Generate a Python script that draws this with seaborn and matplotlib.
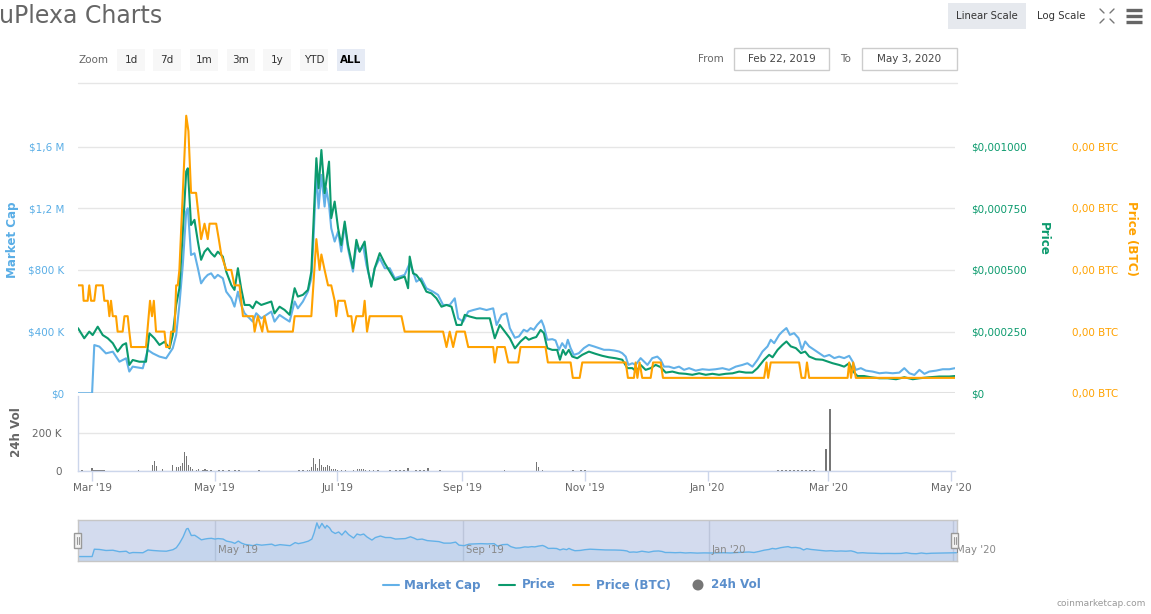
import numpy as np
import pandas as pd
import seaborn as sns
import matplotlib.pyplot as plt
import matplotlib.dates as mdates
from matplotlib.patches import Rectangle, Circle
from matplotlib.ticker import FuncFormatter

# ---- data (day = days since Feb 22, 2019) ----
START = pd.Timestamp('2019-02-22')
END = pd.Timestamp('2020-05-03')

# market cap, thousands of USD
mc_days = [0, 7.0, 8.1, 10.6, 13.9, 17.3, 20.6, 23.9, 25.5, 27.2,
           32.2, 34.7, 37.2, 40.5, 43.8, 47.1, 48.8, 50.4, 52.1, 53.8,
           54.6, 56.2, 57.9, 59.6, 61.2, 62.9, 64.5, 66.2, 67.9, 69.5,
           72.0, 73.7, 76.2, 77.8, 79.5, 81.1, 82.8, 85.3, 86.9, 88.6,
           91.1, 93.6, 96.1, 97.7, 100.2, 102.7, 105.2, 107.7, 109.3, 111.8,
           114.3, 116.0, 117.1, 118.5, 119.6, 121.0, 122.6, 123.4, 124.8, 125.9,
           127.6, 129.3, 130.9, 132.6, 134.2, 136.7, 138.4, 140.0, 141.7, 143.4,
           145.8, 147.5, 150.0, 152.5, 155.0, 157.5, 160.0, 162.4, 164.9, 166.6,
           168.2, 170.7, 173.2, 176.5, 179.0, 181.5, 184.8, 187.3, 189.0, 191.5,
           194.0, 196.5, 199.8, 203.1, 206.4, 208.1, 210.6, 213.0, 214.7, 217.2,
           219.2, 221.6, 223.3, 225.0, 226.6, 228.3, 230.4, 231.6, 233.3, 235.8,
           237.4, 239.1, 240.7, 242.4, 243.5, 244.9, 246.5, 249.0, 251.5, 254.0,
           256.5, 259.0, 261.5, 264.0, 266.5, 269.0, 270.6, 272.3, 273.6, 275.6,
           277.2, 279.7, 281.4, 283.1, 285.5, 288.0, 289.7, 291.3, 293.8, 296.3,
           298.8, 301.3, 303.8, 307.1, 310.4, 313.7, 317.0, 320.4, 323.7, 327.0,
           330.3, 332.8, 335.3, 337.8, 340.3, 342.8, 344.4, 346.1, 348.6, 350.2,
           352.2, 353.9, 356.0, 358.2, 359.9, 361.5, 363.5, 366.0, 368.5, 371.0,
           373.5, 376.0, 378.4, 380.9, 383.4, 385.1, 386.7, 389.2, 391.7, 395.0,
           398.4, 401.7, 405.0, 408.3, 410.8, 413.3, 415.8, 418.3, 420.8, 423.2,
           426.6, 429.9, 433.2, 436.0]
mc_k = [0, 0, 313, 303, 259, 270, 205, 227, 141, 173,
        162, 281, 259, 238, 227, 292, 378, 573, 832, 1178,
        1200, 897, 908, 811, 713, 746, 768, 778, 746, 768,
        746, 659, 616, 562, 659, 573, 519, 486, 465, 519,
        486, 508, 530, 465, 508, 486, 465, 595, 551, 595,
        659, 746, 1005, 1438, 1200, 1416, 1211, 1330, 1222, 1070,
        984, 1049, 919, 1092, 940, 789, 962, 919, 962, 832,
        703, 811, 876, 811, 811, 746, 757, 768, 843, 789,
        724, 746, 681, 659, 638, 573, 573, 616, 486, 465,
        530, 540, 551, 540, 551, 443, 508, 519, 422, 360,
        369, 412, 401, 423, 412, 444, 473, 434, 347, 351,
        343, 282, 325, 293, 347, 293, 249, 260, 293, 314,
        304, 293, 282, 282, 278, 271, 260, 238, 184, 195,
        184, 228, 206, 184, 228, 238, 217, 173, 173, 163,
        173, 152, 163, 147, 156, 152, 156, 163, 152, 173,
        184, 195, 173, 217, 271, 304, 347, 325, 379, 401,
        423, 379, 390, 358, 282, 336, 304, 282, 260, 238,
        249, 228, 238, 228, 243, 206, 152, 163, 147, 141,
        130, 134, 130, 134, 163, 130, 119, 152, 126, 141,
        147, 156, 156, 163]

# price, millionths of USD
price_days = [0, 3.1, 5.6, 7.3, 9.8, 12.3, 14.8, 17.3, 19.7, 22.2,
              23.9, 25.5, 27.2, 30.5, 33.8, 35.5, 38.0, 40.5, 43.0, 45.5,
              47.1, 48.8, 50.4, 52.1, 53.8, 54.6, 56.2, 57.9, 59.6, 61.2,
              62.9, 64.5, 66.2, 67.9, 69.5, 72.0, 73.7, 76.2, 77.8, 79.5,
              81.1, 82.8, 85.3, 86.9, 88.6, 91.1, 93.6, 96.1, 97.7, 100.2,
              102.7, 105.2, 107.7, 109.3, 111.8, 114.3, 116.0, 117.1, 118.5, 119.6,
              121.0, 122.6, 123.4, 124.8, 125.9, 127.6, 129.3, 130.9, 132.6, 134.2,
              136.7, 138.4, 140.0, 142.5, 144.2, 145.8, 147.5, 150.0, 152.5, 155.0,
              157.5, 160.0, 162.4, 164.1, 164.9, 166.6, 168.2, 170.7, 173.2, 175.7,
              178.2, 180.7, 183.2, 185.7, 188.2, 190.6, 192.3, 194.8, 198.1, 201.4,
              204.7, 207.2, 209.7, 212.2, 214.7, 217.2, 220.0, 222.5, 224.1, 226.1,
              227.8, 230.0, 231.6, 233.3, 235.8, 238.2, 239.6, 241.1, 242.4, 244.0,
              245.7, 248.2, 250.7, 254.0, 257.3, 260.6, 263.9, 267.3, 270.6, 273.1,
              275.6, 277.6, 279.7, 282.2, 284.7, 287.2, 289.7, 292.2, 295.5, 298.8,
              302.1, 305.4, 308.8, 312.1, 315.4, 318.7, 322.0, 325.4, 328.7, 332.0,
              335.3, 337.8, 341.1, 343.6, 345.3, 347.8, 350.2, 352.2, 354.4, 356.9,
              359.4, 361.5, 363.5, 366.8, 370.1, 372.6, 375.1, 378.4, 380.9, 383.4,
              385.4, 387.5, 390.8, 394.2, 398.4, 402.5, 406.7, 410.8, 415.0, 418.3,
              423.2, 428.2, 433.2, 436.0]
price_micro = [264, 223, 250, 236, 270, 236, 223, 203, 169, 196,
               203, 115, 135, 128, 128, 243, 223, 196, 209, 182,
               236, 358, 426, 655, 899, 912, 682, 703, 615, 541,
               574, 588, 568, 554, 574, 554, 493, 439, 419, 507,
               426, 358, 358, 345, 372, 358, 365, 372, 324, 351,
               338, 318, 426, 392, 399, 419, 493, 696, 953, 831,
               986, 811, 858, 939, 710, 777, 669, 601, 696, 601,
               507, 622, 574, 615, 500, 432, 507, 568, 527, 493,
               459, 466, 473, 426, 554, 486, 480, 453, 412, 405,
               385, 351, 358, 351, 277, 277, 318, 311, 304, 304,
               304, 223, 277, 250, 223, 182, 210, 228, 217, 224,
               228, 257, 244, 183, 176, 176, 136, 176, 156, 176,
               149, 142, 156, 169, 160, 152, 146, 142, 136, 102,
               102, 88, 115, 95, 102, 115, 106, 84, 88, 81,
               79, 75, 81, 75, 79, 75, 79, 81, 88, 84,
               84, 102, 136, 156, 146, 176, 196, 210, 190, 183,
               163, 169, 149, 138, 136, 129, 122, 115, 108, 122,
               88, 70, 70, 65, 61, 61, 57, 65, 57, 61,
               65, 68, 68, 70]

# price in satoshi (1e-8 BTC)
btc_days = [0, 2.3, 2.8, 4.8, 5.6, 6.5, 8.1, 9.0, 12.3, 13.1,
            14.8, 15.6, 16.4, 17.3, 18.9, 19.7, 22.2, 23.1, 24.7, 25.5,
            26.4, 33.8, 35.8, 36.8, 37.7, 38.8, 43.0, 43.8, 45.5, 46.3,
            48.0, 48.8, 49.6, 50.4, 53.8, 54.9, 56.2, 58.7, 60.4, 61.2,
            62.9, 64.5, 65.4, 68.7, 70.0, 71.2, 73.7, 76.2, 77.8, 80.3,
            82.0, 87.0, 87.8, 89.4, 91.6, 92.7, 94.4, 106.8, 107.7, 116.0,
            118.5, 120.1, 121.0, 122.6, 124.3, 125.9, 127.6, 128.4, 129.3, 132.6,
            134.2, 135.9, 136.7, 138.4, 141.7, 142.5, 143.7, 145.0, 160.8, 162.4,
            181.5, 183.2, 184.8, 186.5, 188.2, 192.3, 194.0, 206.4, 207.2, 208.4,
            212.2, 213.9, 218.8, 220.0, 232.4, 233.6, 244.9, 246.0, 249.4, 250.7,
            272.3, 273.4, 276.4, 277.2, 278.1, 279.2, 280.5, 284.7, 285.9, 289.7,
            290.8, 341.1, 342.3, 343.1, 344.4, 358.5, 359.7, 361.5, 362.4, 363.5,
            382.6, 383.4, 384.3, 385.4, 386.7, 436.0]
btc_sat = [7, 7, 6, 6, 7, 6, 6, 7, 7, 6,
           6, 5, 6, 5, 5, 4, 4, 5, 5, 4,
           3, 3, 6, 5, 6, 4, 4, 3, 3, 4,
           4, 7, 7, 8, 18, 17, 13, 13, 11, 10,
           11, 10, 11, 11, 10, 9, 8, 8, 7, 7,
           5, 5, 4, 5, 4, 5, 4, 4, 5, 5,
           10, 8, 9, 8, 7, 7, 6, 5, 6, 6,
           5, 5, 4, 5, 5, 6, 4, 5, 5, 4,
           4, 3, 4, 3, 4, 4, 3, 3, 2, 3,
           3, 2, 2, 3, 3, 2, 2, 1, 1, 2,
           2, 1, 1, 2, 1, 2, 1, 1, 2, 2,
           1, 1, 2, 1, 2, 2, 1, 1, 2, 1,
           1, 2, 1, 2, 1, 1]

# 24h volume, thousands of USD (days not listed are ~0)
vol_days = [2, 7, 8, 9, 10, 11, 12, 13, 30, 37,
            38, 39, 42, 47, 49, 50, 51, 52, 53, 54,
            55, 56, 57, 59, 60, 62, 63, 64, 66, 70,
            72, 75, 78, 80, 90, 110, 112, 114, 115, 116,
            117, 118, 119, 120, 121, 122, 123, 124, 125, 126,
            127, 128, 129, 131, 133, 137, 139, 140, 141, 142,
            143, 145, 147, 149, 155, 158, 160, 162, 164, 168,
            170, 172, 174, 180, 212, 228, 229, 231, 246, 250,
            252, 348, 350, 352, 354, 356, 358, 360, 362, 364,
            366, 372, 374]
vol_k = [4, 14, 5, 5, 4, 5, 3, 4, 4, 30,
         50, 25, 9, 30, 21, 18, 25, 39, 100, 79,
         32, 21, 9, 6, 8, 6, 7, 5, 6, 4,
         4, 3, 4, 3, 3, 3, 5, 4, 6, 21,
         68, 36, 15, 63, 30, 20, 21, 29, 23, 11,
         8, 7, 6, 5, 4, 6, 8, 7, 8, 9,
         6, 6, 5, 4, 4, 5, 5, 6, 14, 4,
         4, 5, 14, 3, 4, 46, 18, 5, 4, 3,
         3, 4, 4, 4, 4, 4, 3, 4, 3, 4,
         3, 116, 330]

MC_BLUE = '#63b1e8'
PRICE_GREEN = '#0b9a6d'
BTC_ORANGE = '#ffa200'
VOL_GRAY = '#767676'
TEXT_GRAY = '#666666'

mc_df = pd.DataFrame({'date': START + pd.to_timedelta(mc_days, unit='D'),
                      'value': np.array(mc_k) * 1e3})
price_df = pd.DataFrame({'date': START + pd.to_timedelta(price_days, unit='D'),
                         'value': np.array(price_micro) * 1e-6})
btc_df = pd.DataFrame({'date': START + pd.to_timedelta(btc_days, unit='D'),
                       'value': np.array(btc_sat) * 1e-8})
vol_dates = START + pd.to_timedelta(vol_days, unit='D')
vol_vals = np.array(vol_k) * 1e3

sns.set_theme(style='white')
plt.rcParams['font.family'] = ['DejaVu Sans']

W, H = 1151, 614


def box(x0, y0, x1, y1):
    # pixel box (top-left origin) -> figure fraction
    return [x0 / W, 1 - y1 / H, (x1 - x0) / W, (y1 - y0) / H]


def fmt_mc(v, pos):
    if v == 0:
        return '$0'
    if v >= 1e6:
        return '$' + f'{v / 1e6:.1f}'.replace('.', ',') + ' M'
    return f'${v / 1e3:.0f} K'


def fmt_price(v, pos):
    if v == 0:
        return '$0'
    return '$' + f'{v:.6f}'.replace('.', ',')


fig = plt.figure(figsize=(W / 100, H / 100), dpi=100)

# ---- main panel ----
ax = fig.add_axes(box(78, 100, 955, 393.3))
ax_p = ax.twinx()
ax_b = ax.twinx()

mc_top = 1.902e6
sns.lineplot(data=mc_df, x='date', y='value', ax=ax, color=MC_BLUE, lw=1.5,
             estimator=None, sort=False)
sns.lineplot(data=price_df, x='date', y='value', ax=ax_p, color=PRICE_GREEN, lw=1.5,
             estimator=None, sort=False)
sns.lineplot(data=btc_df, x='date', y='value', ax=ax_b, color=BTC_ORANGE, lw=1.5,
             estimator=None, sort=False)

ax.set_xlim(START, END)
ax.set_ylim(0, mc_top)
ax_p.set_ylim(0, mc_top / 1.6e9)
ax_b.set_ylim(0, 19.02e-8)

ax.set_yticks([0, 4e5, 8e5, 1.2e6, 1.6e6])
ax_p.set_yticks([0, 0.00025, 0.0005, 0.00075, 0.001])
ax_b.set_yticks([0, 4e-8, 8e-8, 12e-8, 16e-8])
ax.yaxis.set_major_formatter(FuncFormatter(fmt_mc))
ax_p.yaxis.set_major_formatter(FuncFormatter(fmt_price))
ax_b.yaxis.set_major_formatter(FuncFormatter(lambda v, p: '0,00 BTC'))

ax.grid(axis='y', color='#e6e6e6', lw=1)
ax.grid(axis='x', visible=False)
ax_p.grid(False)
ax_b.grid(False)
ax.axhline(0, color='#e0e0e0', lw=2.2, zorder=0.5)

ax.tick_params(axis='y', length=0, pad=10, labelsize=7.5, labelcolor='#5aaee6')
ax_p.tick_params(axis='y', length=0, pad=11.5, labelsize=7.5, labelcolor=PRICE_GREEN)
ax_b.tick_params(axis='y', length=0, pad=84, labelsize=7.5, labelcolor=BTC_ORANGE)
for a in (ax, ax_p, ax_b):
    a.tick_params(axis='x', bottom=False, labelbottom=False)
    a.set_xlabel('')
    a.set_ylabel('')
    for s in a.spines.values():
        s.set_visible(False)

# ---- volume panel ----
ax_v = fig.add_axes(box(78, 396, 955, 470.7))
ax_v.bar(vol_dates, vol_vals, width=0.8, color=VOL_GRAY, linewidth=0)
ax_v.set_xlim(START, END)
ax_v.set_ylim(0, 4e5)
ax_v.set_yticks([0, 2e5])
ax_v.yaxis.set_major_formatter(FuncFormatter(lambda v, p: '0' if v == 0 else f'{v / 1e3:.0f} K'))
ax_v.grid(axis='y', color='#e6e6e6', lw=1)
ax_v.grid(axis='x', visible=False)
ax_v.tick_params(axis='y', length=0, pad=11.5, labelsize=7.5, labelcolor=TEXT_GRAY)
ax_v.xaxis.set_major_locator(mdates.MonthLocator(bymonth=(1, 3, 5, 7, 9, 11)))
ax_v.xaxis.set_major_formatter(mdates.DateFormatter("%b '%y"))
ax_v.tick_params(axis='x', bottom=True, direction='out', length=7, width=1,
                 color='#ccd6eb', labelcolor=TEXT_GRAY, labelsize=7.5, pad=1.5)
for name, s in ax_v.spines.items():
    s.set_visible(name in ('left', 'bottom'))
    s.set_color('#ccd6eb')
    s.set_linewidth(1)

# ---- navigator ----
ax_n = fig.add_axes(box(78, 520, 957, 561))
ax_n.set_facecolor('#d3dbee')
sns.lineplot(data=mc_df, x='date', y='value', ax=ax_n, color=MC_BLUE, lw=1,
             estimator=None, sort=False)
ax_n.fill_between(mc_df['date'], mc_df['value'], -0.2e6, color=MC_BLUE, alpha=0.12, lw=0)
ax_n.set_xlim(START, END)
ax_n.set_ylim(-0.19e6, 1.56e6)
nav_ticks = pd.to_datetime(['2019-05-01', '2019-09-01', '2020-01-01', '2020-05-01'])
ax_n.set_xticks(nav_ticks)
ax_n.set_yticks([])
ax_n.grid(axis='x', color='#bcc5da', lw=1)
ax_n.grid(axis='y', visible=False)
ax_n.tick_params(axis='x', bottom=False, labelbottom=False)
ax_n.set_xlabel('')
ax_n.set_ylabel('')
for s in ax_n.spines.values():
    s.set_color('#c6c6c6')
    s.set_linewidth(1)
for d in nav_ticks:
    ax_n.annotate(d.strftime("%b '%y"), xy=(mdates.date2num(d), 0.27),
                  xycoords=ax_n.get_xaxis_transform(),
                  xytext=(2, 0), textcoords='offset points', ha='left', va='center',
                  fontsize=7.3, color='#888888', annotation_clip=False)

# ---- overlay: titles, controls, legend ----
ov = fig.add_axes([0, 0, 1, 1], zorder=10)
ov.set_xlim(0, W)
ov.set_ylim(H, 0)
ov.axis('off')

ov.text(-1, 16, 'uPlexa Charts', fontsize=17, color=TEXT_GRAY, ha='left', va='center')

# scale buttons and icons
ov.add_patch(Rectangle((948, 3), 78, 26, fc='#e6e9ee', ec='none'))
ov.text(987, 16, 'Linear Scale', fontsize=7.3, color='#333333', ha='center', va='center')
ov.text(1061, 16, 'Log Scale', fontsize=7.3, color='#333333', ha='center', va='center')
for sx, sy in [(-1, -1), (1, -1), (-1, 1), (1, 1)]:
    cx, cy = 1107 + sx * 3, 16 + sy * 3
    ov.plot([cx, cx + sx * 4], [cy, cy + sy * 4], color='#777777', lw=1)
for yy in (10, 16, 22):
    ov.plot([1126, 1142], [yy, yy], color='#666666', lw=2.4, solid_capstyle='butt')

# range selector
ov.text(79, 60, 'Zoom', fontsize=7.5, color=TEXT_GRAY, ha='left', va='center')
zoom_labels = ['1d', '7d', '1m', '3m', '1y', 'YTD', 'ALL']
zoom_centers = [131, 167, 204, 241, 277, 314, 351]
for lab, cx in zip(zoom_labels, zoom_centers):
    active = lab == 'ALL'
    ov.add_patch(Rectangle((cx - 14, 49), 28, 22, fc='#e6ebf5' if active else '#f7f7f7', ec='none'))
    ov.text(cx, 60, lab, fontsize=7.5, ha='center', va='center',
            color='#000000' if active else '#333333', fontweight='bold' if active else 'normal')

ov.text(698, 59, 'From', fontsize=7.5, color=TEXT_GRAY, ha='left', va='center')
ov.add_patch(Rectangle((734, 48), 95, 22, fc='white', ec='#cccccc', lw=1))
ov.text(781.5, 59, 'Feb 22, 2019', fontsize=7.5, color='#444444', ha='center', va='center')
ov.text(840, 59, 'To', fontsize=7.5, color=TEXT_GRAY, ha='left', va='center')
ov.add_patch(Rectangle((862, 48), 95, 22, fc='white', ec='#cccccc', lw=1))
ov.text(909.5, 59, 'May 3, 2020', fontsize=7.5, color='#444444', ha='center', va='center')
ov.plot([78, 957], [83, 83], color='#e6e6e6', lw=1)

# axis titles
ov.text(13, 240, 'Market Cap', rotation=90, fontsize=8.6, fontweight='bold',
        color='#5aaee6', ha='center', va='center')
ov.text(1043, 239, 'Price', rotation=270, fontsize=8.6, fontweight='bold',
        color=PRICE_GREEN, ha='center', va='center')
ov.text(1132, 238, 'Price (BTC)', rotation=270, fontsize=8.6, fontweight='bold',
        color=BTC_ORANGE, ha='center', va='center')
ov.text(17, 432, '24h Vol', rotation=90, fontsize=8.6, fontweight='bold',
        color=TEXT_GRAY, ha='center', va='center')

# navigator handles
for hx in (78, 955):
    ov.add_patch(Rectangle((hx - 3.5, 533), 7, 15, fc='#f2f2f2', ec='#999999', lw=1))
    ov.plot([hx - 1, hx - 1], [537, 544], color='#999999', lw=0.8)
    ov.plot([hx + 1, hx + 1], [537, 544], color='#999999', lw=0.8)

# legend
LEG_TEXT = '#5b8fcc'
legend_items = [('Market Cap', MC_BLUE, 383, 404), ('Price', PRICE_GREEN, 499, 522),
                ('Price (BTC)', BTC_ORANGE, 573, 596)]
for lab, col, lx, tx in legend_items:
    ov.plot([lx, lx + 16], [585, 585], color=col, lw=1.5)
    ov.text(tx, 585, lab, fontsize=8.6, fontweight='bold', color=LEG_TEXT, ha='left', va='center')
ov.add_patch(Circle((698, 585), 5.5, fc=VOL_GRAY, ec='none'))
ov.text(711, 585, '24h Vol', fontsize=8.6, fontweight='bold', color=LEG_TEXT, ha='left', va='center')

ov.text(1146, 604, 'coinmarketcap.com', fontsize=6.5, color='#999999', ha='right', va='center')

fig.savefig('out.png', dpi=100)
